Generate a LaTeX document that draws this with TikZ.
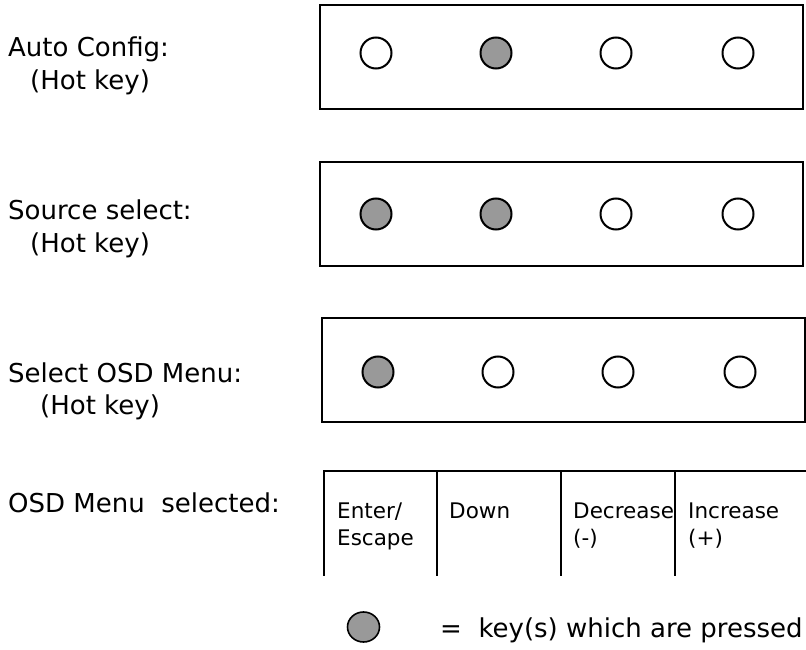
\documentclass[tikz,border=0pt]{standalone}
\usepackage{fontspec}
\usetikzlibrary{shapes.geometric}
\setmainfont{DejaVu Sans}
\begin{document}
\begin{tikzpicture}[x=1pt,y=-1pt,
  panel/.style={draw=black,line width=2.4pt},
  keyoff/.style={circle,draw=black,line width=2pt,fill=white,minimum size=31pt,inner sep=0pt},
  keyon/.style={keyoff,fill=black!40},
  lbl/.style={anchor=base west,inner sep=0pt,font=\fontsize{26}{30}\selectfont},
  tlbl/.style={anchor=base west,inner sep=0pt,font=\fontsize{21.5}{24}\selectfont,align=left},
  rule/.style={draw=black,line width=2.4pt}]
\useasboundingbox (0,0) rectangle (806,650);
\fill[white] (0,0) rectangle (806,650);

% row 1
\node[lbl] (l1a) at (8,57) {Auto Config:};
\node[lbl] (l1b) at (30,90) {(Hot key)};
\draw[panel] (320,5) rectangle (803,109);
\node[keyoff] (k11) at (376,53) {};
\node[keyon]  (k12) at (496,53) {};
\node[keyoff] (k13) at (616,53) {};
\node[keyoff] (k14) at (738,53) {};

% row 2
\node[lbl] (l2a) at (8,219) {Source select:};
\node[lbl] (l2b) at (30,252) {(Hot key)};
\draw[panel] (320,162) rectangle (803,266);
\node[keyon]  (k21) at (376,214) {};
\node[keyon]  (k22) at (496,214) {};
\node[keyoff] (k23) at (616,214) {};
\node[keyoff] (k24) at (738,214) {};

% row 3
\node[lbl] (l3a) at (8,382) {Select OSD Menu:};
\node[lbl] (l3b) at (40,414) {(Hot key)};
\draw[panel] (322,318) rectangle (805,422);
\node[keyon]  (k31) at (378,372) {};
\node[keyoff] (k32) at (498,372) {};
\node[keyoff] (k33) at (618,372) {};
\node[keyoff] (k34) at (740,372) {};

% row 4
\node[lbl] (l4) at (8,512) {OSD Menu\ \ selected:};
\draw[rule] (324,471) -- (806,471);
\draw[rule] (324,470) -- (324,576);
\draw[rule] (437,470) -- (437,576);
\draw[rule] (561,470) -- (561,576);
\node[tlbl] (t1) at (337,518) {Enter/};
\node[tlbl] (t1b) at (337,545) {Escape};
\node[tlbl] (t2) at (449,518) {Down};
\node[tlbl] (t3) at (573,518) {Decrease};
\node[tlbl] (t3b) at (573,545) {(-)};
\node[tlbl] (t4) at (688,518) {Increase};
\node[tlbl] (t4b) at (688,545) {(+)};
\fill[white] (674,480) rectangle (686,560);
\draw[rule] (675,470) -- (675,576);

% legend
\node[ellipse,draw=black,fill=black!40,line width=1.6pt,minimum width=32pt,minimum height=30pt,inner sep=0pt] (leg) at (363.5,627) {};
\node[lbl] (legt) at (440,637) {=\ \ key(s) which are pressed};
\end{tikzpicture}
\end{document}
